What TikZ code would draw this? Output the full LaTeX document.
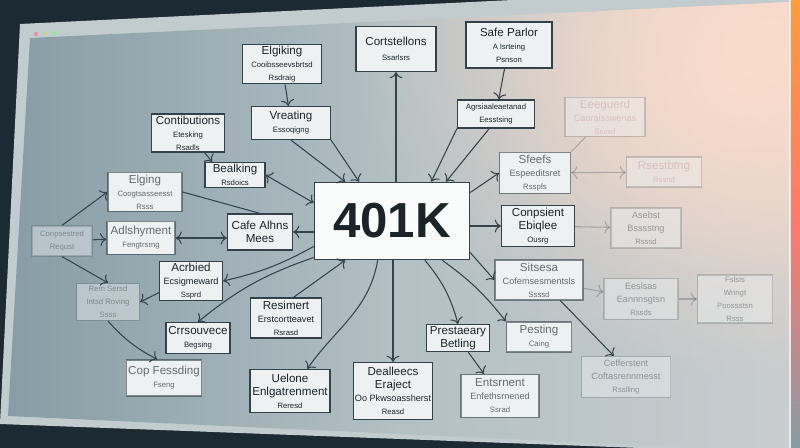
\documentclass[tikz,border=0pt]{standalone}
\usepackage{fontspec}
\setmainfont{Liberation Sans}
\usepackage{tikz}
\usetikzlibrary{arrows.meta,fadings}
\usepackage{xcolor}

\definecolor{bezel}{HTML}{1B2A33}
\definecolor{winframe}{HTML}{C2CCCF}
\definecolor{scrleft}{HTML}{879CA5}
\definecolor{scrmid}{HTML}{B3C0C4}
\definecolor{scrright}{HTML}{C9CDCF}
\definecolor{peach}{HTML}{FBDCCB}
\definecolor{boxfill}{HTML}{EDF1F2}
\definecolor{boxline}{HTML}{33424A}
\definecolor{ink}{HTML}{1A2429}
\definecolor{wire}{HTML}{34444C}
\definecolor{blush}{HTML}{C0898C}

\tikzfading[name=glowfade, inner color=transparent!0, outer color=transparent!100]

\newcommand{\subtx}[1]{{\fontsize{4.4}{5.2}\selectfont #1}}
\newcommand{\midtx}[1]{{\fontsize{5.2}{6.2}\selectfont #1}}

\tikzset{
	box/.style 2 args={draw=boxline, fill=boxfill, line width=0.7pt, align=center, inner sep=1pt,
		minimum width=#1*0.2mm, minimum height=#2*0.2mm, text=ink, font=\fontsize{6.6}{7.4}\selectfont},
	hub/.style={draw=boxline, fill=white!94!scrmid, line width=0.9pt, minimum width=31mm, minimum height=15.4mm,
		text=ink, font=\fontsize{28}{32}\selectfont\bfseries},
	soft/.style={draw opacity=0.6, text opacity=0.65},
	faint/.style={draw opacity=0.22, fill opacity=0.45, text opacity=0.38},
	rosy/.style={faint, text=blush},
	arr/.style={draw=wire, line width=0.6pt, -{>[scale=1.2]}},
	arrs/.style={draw=wire, line width=0.6pt, {<[scale=1.2]}-{>[scale=1.2]}},
	wireline/.style={draw=wire, line width=0.6pt},
	dim/.style={draw opacity=0.3},
}

\begin{document}
\begin{tikzpicture}[x=0.02cm, y=-0.02cm]
						\useasboundingbox (0,0) rectangle (800,448);
						\clip (0,0) rectangle (800,448);
						\fill[bezel] (0,0) rectangle (800,448);
						\fill[winframe] (20,24) -- (800,-14) -- (800,454) -- (0,424) -- cycle;
						\begin{scope}
							\clip (30,38) -- (790,2) -- (790,452) -- (8,416) -- cycle;
							\shade[left color=scrleft, right color=scrright, middle color=scrmid] (0,0) rectangle (800,448);
							\fill[peach, path fading=glowfade] (770,40) ellipse (420 and 340);
							\fill[peach, path fading=glowfade, fill opacity=0.7] (740,90) ellipse (260 and 200);
						\end{scope}
						\shade[top color=orange!70!peach, bottom color=scrleft, middle color=red!45!peach] (791,0) rectangle (800,448);
						\draw[white, opacity=0.6, line width=1pt] (790,0) -- (790,448);
						\fill[red!55!white, opacity=0.6] (36,34) circle (2.2);
						\fill[yellow!50!green!60!white, opacity=0.6] (45,33.5) circle (2.2);
						\fill[green!55!white, opacity=0.6] (54,33) circle (2.2);

						\node[hub] (k401) at (392,221) {401K};
						\node[box={79}{38}] (elgiking) at (282,64) {Elgiking\\\subtx{Cooibsseevsbrtsd}\\\subtx{Rsdraig}};
						\node[box={80}{45}] (cortst) at (396,49) {Cortstellons\\[1pt]\subtx{Ssarlsrs}};
						\node[box={86}{46}] (safe) at (509,45) {Safe Parlor\\\subtx{A lsrteing}\\\subtx{Psnson}};
						\node[box={79}{33}] (vreating) at (291,123) {Vreating\\\subtx{Essoqigng}};
						\node[box={73}{37}] (contrib) at (188,133) {Contibutions\\\subtx{Etesking}\\\subtx{Rsadls}};
						\node[box={60}{25}] (bealking) at (235,175) {Bealking\\\subtx{Rsdoics}};
						\node[box={77}{28}] (agrs) at (496,114) {\subtx{Agrsiaaleaetanad}\\\subtx{Eesstsing}};
						\node[box={74}{39}, soft] (elging) at (145,192) {Elging\\\subtx{Coogtsasseesst}\\\subtx{Rsss}};
						\node[box={65}{36}] (cafe) at (260,232) {Cafe Alhns\\Mees};
						\node[box={60}{30}, faint] (conps) at (62,241) {\subtx{Conpsestred}\\\subtx{Requst}};
						\node[box={68}{33}, soft] (adlsh) at (141,238) {Adlshyment\\\subtx{Fengtrsrng}};
						\node[box={63}{36}] (acrbied) at (191,281) {Acrbied\\\midtx{Ecsigmeward}\\\subtx{Ssprd}};
						\node[box={63}{37}, faint] (remsersd) at (108,302) {\subtx{Rem Sersd}\\\subtx{Intsd Roving}\\\subtx{Ssss}};
						\node[box={71}{40}] (resimert) at (286,318) {Resimert\\\midtx{Erstcortteavet}\\\subtx{Rsrasd}};
						\node[box={64}{31}] (crrsou) at (198,338) {Crrsouvece\\\subtx{Begsing}};
						\node[box={72}{36}, soft] (copfess) at (164,378) {Cop Fessding\\\subtx{Fseng}};
						\node[box={80}{43}] (uelone) at (290,391) {Uelone\\Enlgatrenment\\\subtx{Reresd}};
						\node[box={77}{57}] (deall) at (393,391) {Dealleecs\\Eraject\\\midtx{Oo Pkwsoassherst}\\\subtx{Reasd}};
						\node[box={63}{27}] (prest) at (458,338) {Prestaeary\\Betling};
						\node[box={65}{30}, soft] (pesting) at (539,337) {Pesting\\\subtx{Caing}};
						\node[box={78}{43}, soft] (entsr) at (500,396) {Entsrnent\\\midtx{Enfethsrnened}\\\subtx{Ssrad}};
						\node[box={71}{41}, soft] (sfeefs) at (535,173) {Sfeefs\\\midtx{Espeeditsret}\\\subtx{Rsspfs}};
						\node[box={80}{39}, rosy] (eeeg) at (605,117) {Eeeguerd\\\midtx{Caoraisswenas}\\\subtx{Ssvsd}};
						\node[box={75}{30}, rosy] (rsest) at (664,172) {Rsestbtng\\\subtx{Rssnd}};
						\node[box={73}{41}] (conpsient) at (538,226) {Conpsient\\Ebiqlee\\\subtx{Ousrg}};
						\node[box={70}{40}, faint] (asebst) at (646,228) {\midtx{Asebst}\\\midtx{Bsssstng}\\\subtx{Rsssd}};
						\node[box={88}{40}, soft] (sitsesa) at (539,280) {Sitsesa\\\midtx{Cofemsesmentsls}\\\subtx{Ssssd}};
						\node[box={74}{41}, faint] (eesl) at (641,299) {\midtx{Eeslsas}\\\midtx{Eannnsgtsn}\\\subtx{Rssds}};
						\node[box={75}{45}, faint] (fsls) at (735,299) {\subtx{Fslsis}\\\subtx{Wnngt}\\\subtx{Poossstsn}\\\subtx{Rsss}};
						\node[box={89}{41}, faint] (ceff) at (626,377) {\midtx{Cefferstent}\\\midtx{Coftasrennmesst}\\\subtx{Rsslling}};

						\draw[arr] (elgiking) -- (vreating);
						\draw[arr] (k401.north -| cortst) -- (cortst);
						\draw[arr] (safe) -- (agrs);
						\draw[arr] (vreating.south) -- (k401.140);
						\draw[arr] (vreating.south east) -- (k401.130);
						\draw[arr] (contrib) -- (bealking.150);
						\draw[arrs] (bealking.east) -- (k401.167);
						\draw[arr] (agrs.south west) -- (k401.45);
						\draw[arr] (agrs.-115) -- (k401.36);
						\draw[arr] (k401.20) -- (sfeefs.west);
						\draw[arrs, dim] (sfeefs) -- (rsest);
						\draw[wireline, dim] (sfeefs.north east) -- (eeeg);
						\draw[arr] (k401.east |- conpsient) -- (conpsient);
						\draw[arr, dim] (conpsient) -- (asebst);
						\draw[arr] (k401.-22) -- (sitsesa.west);
						\draw[arr] (k401.-38) to[bend left=8] (pesting.north west);
						\draw[arr] (k401.-50) to[bend left=12] (prest.north);
						\draw[arr] (prest) -- (entsr);
						\draw[arr, dim] (sitsesa) -- (eesl);
						\draw[arr, dim] (eesl) -- (fsls);
						\draw[arr] (sitsesa.-44) -- (ceff.120);
						\draw[arr] (k401.south -| deall) -- (deall);
						\draw[arr] (k401.-110) to[out=-100, in=55] (uelone.52);
						\draw[arr] (resimert.70) -- (k401.-140);
						\draw[arr] (k401.-155) to[bend right=10] (crrsou.north);
						\draw[arr] (k401.-162) to[bend left=8] (acrbied.east);
						\draw[arr] (k401.west |- cafe) -- (cafe);
						\draw[wireline] (elging.east) -- (cafe.north);
						\draw[arrs] (adlsh.east) -- (cafe.west |- adlsh.east);
						\draw[arr] (conps.north) -- (elging.west);
						\draw[arr] (conps) -- (adlsh);
						\draw[arr] (conps.south) -- (remsersd.north);
						\draw[arr] (acrbied.-160) -- (remsersd.east);
						\draw[arr] (remsersd.south) to[bend right=10] (copfess.110);
					\end{tikzpicture}
\end{document}
